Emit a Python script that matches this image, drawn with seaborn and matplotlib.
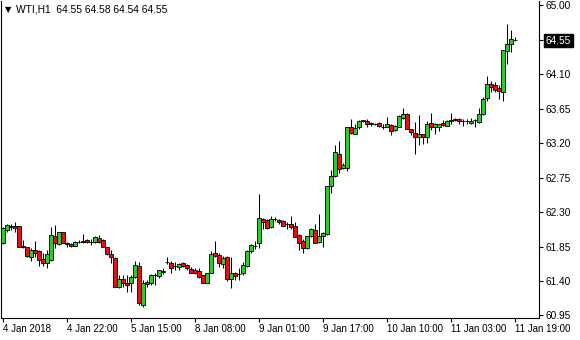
import numpy as np
import pandas as pd
import matplotlib
matplotlib.use("Agg")
import matplotlib.pyplot as plt
import seaborn as sns

# ---- data ----
opens = [61.89, 62.07, 62.10, 62.12, 62.12, 61.845, 61.84, 61.72, 61.80, 61.79,
         61.69, 61.63, 61.67, 61.99, 61.88, 62.04, 61.89, 61.88, 61.86, 61.91,
         61.905, 61.935, 61.905, 61.905, 61.96, 61.935, 61.84, 61.75, 61.70, 61.32,
         61.43, 61.38, 61.37, 61.455, 61.595, 61.09, 61.39, 61.37, 61.478, 61.47,
         61.52, 61.648, 61.64, 61.598, 61.585, 61.64, 61.61, 61.555, 61.55, 61.53,
         61.48, 61.38, 61.51, 61.77, 61.74, 61.62, 61.71, 61.42, 61.50, 61.495,
         61.51, 61.60, 61.795, 61.86, 61.89, 62.205, 62.195, 62.11, 62.208, 62.195,
         62.18, 62.143, 62.145, 62.115, 62.00, 61.92, 61.825, 61.985, 62.065, 61.905,
         61.985, 62.01, 62.64, 62.775, 63.065, 62.875, 62.88, 63.405, 63.325, 63.405,
         63.495, 63.495, 63.456, 63.456, 63.46, 63.408, 63.417, 63.443, 63.37, 63.41,
         63.53, 63.586, 63.38, 63.333, 63.28, 63.316, 63.281, 63.469, 63.412, 63.412,
         63.469, 63.425, 63.49, 63.521, 63.521, 63.49, 63.486, 63.469, 63.499, 63.477,
         63.586, 63.79, 63.968, 63.955, 63.92, 63.868, 64.402, 64.499, 64.55]
highs = [62.10, 62.14, 62.14, 62.17, 62.12, 61.93, 61.85, 61.83, 61.92, 61.81,
         61.76, 61.81, 62.10, 62.13, 62.04, 62.04, 61.91, 61.90, 61.92, 61.94,
         62.01, 61.95, 61.945, 61.99, 62.00, 61.95, 61.85, 61.80, 61.71, 61.48,
         61.48, 61.48, 61.48, 61.66, 61.65, 61.41, 61.41, 61.49, 61.51, 61.545,
         61.565, 61.72, 61.66, 61.65, 61.63, 61.65, 61.62, 61.585, 61.565, 61.565,
         61.485, 61.51, 61.79, 61.92, 61.76, 61.725, 61.725, 61.715, 61.52, 61.57,
         61.65, 61.80, 61.88, 61.92, 62.53, 62.22, 62.205, 62.245, 62.23, 62.21,
         62.195, 62.175, 62.245, 62.165, 62.01, 61.945, 61.99, 62.095, 62.15, 62.27,
         62.045, 62.64, 62.845, 63.17, 63.225, 62.935, 63.415, 63.51, 63.445, 63.50,
         63.50, 63.51, 63.47, 63.465, 63.478, 63.445, 63.54, 63.456, 63.443, 63.565,
         63.665, 63.59, 63.39, 63.47, 63.565, 63.326, 63.486, 63.60, 63.464, 63.45,
         63.50, 63.50, 63.60, 63.53, 63.534, 63.521, 63.512, 63.529, 63.512, 63.66,
         63.803, 64.073, 64.007, 63.998, 63.955, 64.415, 64.76, 64.672, 64.58]
lows = [61.88, 62.04, 62.07, 62.04, 61.84, 61.83, 61.72, 61.66, 61.72, 61.60,
        61.60, 61.57, 61.66, 61.83, 61.87, 61.89, 61.85, 61.84, 61.855, 61.90,
        61.90, 61.89, 61.87, 61.89, 61.90, 61.84, 61.74, 61.64, 61.32, 61.305,
        61.32, 61.26, 61.25, 61.445, 61.085, 61.065, 61.32, 61.35, 61.35, 61.435,
        61.49, 61.62, 61.51, 61.54, 61.54, 61.585, 61.54, 61.50, 61.49, 61.435,
        61.37, 61.37, 61.50, 61.715, 61.58, 61.565, 61.40, 61.305, 61.41, 61.41,
        61.48, 61.58, 61.76, 61.815, 61.825, 62.075, 62.085, 62.095, 62.185, 62.15,
        62.115, 62.075, 62.075, 61.97, 61.805, 61.77, 61.815, 61.975, 61.89, 61.89,
        61.845, 62.00, 62.555, 62.76, 62.815, 62.86, 62.84, 63.315, 63.315, 63.39,
        63.47, 63.41, 63.425, 63.435, 63.405, 63.39, 63.405, 63.313, 63.36, 63.405,
        63.52, 63.38, 63.313, 63.065, 63.18, 63.195, 63.203, 63.37, 63.326, 63.355,
        63.42, 63.425, 63.456, 63.486, 63.447, 63.425, 63.447, 63.456, 63.412, 63.469,
        63.564, 63.747, 63.868, 63.868, 63.782, 63.747, 64.238, 64.389, 64.54]
closes = [62.09, 62.13, 62.12, 62.09, 61.85, 61.855, 61.73, 61.81, 61.77, 61.67,
          61.64, 61.75, 62.00, 61.89, 62.04, 61.89, 61.885, 61.855, 61.91, 61.905,
          61.92, 61.905, 61.91, 61.97, 61.91, 61.85, 61.75, 61.71, 61.325, 61.43,
          61.38, 61.35, 61.45, 61.61, 61.11, 61.38, 61.355, 61.48, 61.482, 61.54,
          61.525, 61.652, 61.57, 61.602, 61.62, 61.60, 61.565, 61.51, 61.51, 61.455,
          61.38, 61.50, 61.75, 61.73, 61.63, 61.70, 61.42, 61.51, 61.47, 61.498,
          61.61, 61.79, 61.87, 61.863, 62.22, 62.165, 62.095, 62.205, 62.21, 62.165,
          62.12, 62.146, 62.10, 61.98, 61.90, 61.835, 61.985, 62.08, 61.90, 61.985,
          62.03, 62.635, 62.77, 63.08, 62.86, 62.91, 63.41, 63.335, 63.40, 63.485,
          63.498, 63.455, 63.459, 63.453, 63.418, 63.411, 63.456, 63.355, 63.42, 63.55,
          63.585, 63.39, 63.34, 63.28, 63.325, 63.281, 63.456, 63.412, 63.456, 63.447,
          63.434, 63.49, 63.508, 63.499, 63.49, 63.487, 63.489, 63.495, 63.50, 63.586,
          63.782, 63.977, 63.933, 63.89, 63.881, 64.412, 64.499, 64.564, 64.55]

x_tick_bars = [0, 16, 32, 48, 64, 80, 96, 112, 128]
x_tick_labels = ["4 Jan 2018", "4 Jan 22:00", "5 Jan 15:00", "8 Jan 08:00",
                 "9 Jan 01:00", "9 Jan 17:00", "10 Jan 10:00", "11 Jan 03:00",
                 "11 Jan 19:00"]
y_ticks = [60.95, 61.40, 61.85, 62.30, 62.75, 63.20, 63.65, 64.10, 64.55, 65.00]
title_text = "WTI,H1  64.55 64.58 64.54 64.55"
last_price = 64.55

df = pd.DataFrame({"open": opens, "high": highs, "low": lows, "close": closes})
df["bar"] = np.arange(len(df))
df["up"] = df["close"] >= df["open"]

sns.set_theme(style="white")
plt.rcParams["font.family"] = ["Liberation Sans", "DejaVu Sans"]

W, H = 580, 340
fig = plt.figure(figsize=(W / 100, H / 100), dpi=100)
ax = fig.add_axes([1 / W, (H - 318) / H, 538 / W, 317.5 / H])
fig.patch.set_facecolor("white")
ax.set_facecolor("white")

GREEN = "#32c832"
RED = "#e01414"

# wicks
ax.vlines(df["bar"], df["low"], df["high"], color="black", linewidth=0.75, zorder=2)
# bodies
colors = [GREEN if u else RED for u in df["up"]]
ax.bar(df["bar"], df["close"] - df["open"], bottom=df["open"], width=0.78,
       color=colors, edgecolor="black", linewidth=0.6, zorder=3)

ax.set_xlim(-0.5, 134)
ax.set_ylim(60.917, 65.063)

sns.despine(ax=ax, top=True, right=False, left=False, bottom=False)
for s in ["left", "right", "bottom"]:
    ax.spines[s].set_color("black")
    ax.spines[s].set_linewidth(0.8)

ax.yaxis.tick_right()
ax.set_yticks(y_ticks)
ax.set_yticklabels([f"{v:.2f}" for v in y_ticks])
ax.tick_params(axis="y", which="both", right=True, left=False, direction="out",
               length=3, width=0.8, color="black", pad=2, labelsize=7.3,
               labelcolor="black")
ax.set_xticks(x_tick_bars)
ax.set_xticklabels(x_tick_labels, ha="left")
ax.tick_params(axis="x", which="both", bottom=True, direction="out", length=3,
               width=0.8, color="black", pad=1.5, labelsize=7.0, labelcolor="black")

for lab in ax.get_yticklabels():
    if lab.get_text() == f"{last_price:.2f}":
        lab.set_color("white")
        lab.set_bbox(dict(facecolor="black", edgecolor="black", pad=1.2))

ax.text(0.008, 0.985, "\u25bc", transform=ax.transAxes, fontsize=6, va="top",
        ha="left", color="black", family="DejaVu Sans")
ax.text(0.027, 0.988, title_text, transform=ax.transAxes, fontsize=7.4,
        va="top", ha="left", color="black")

fig.savefig("out.png", dpi=100, facecolor="white")
